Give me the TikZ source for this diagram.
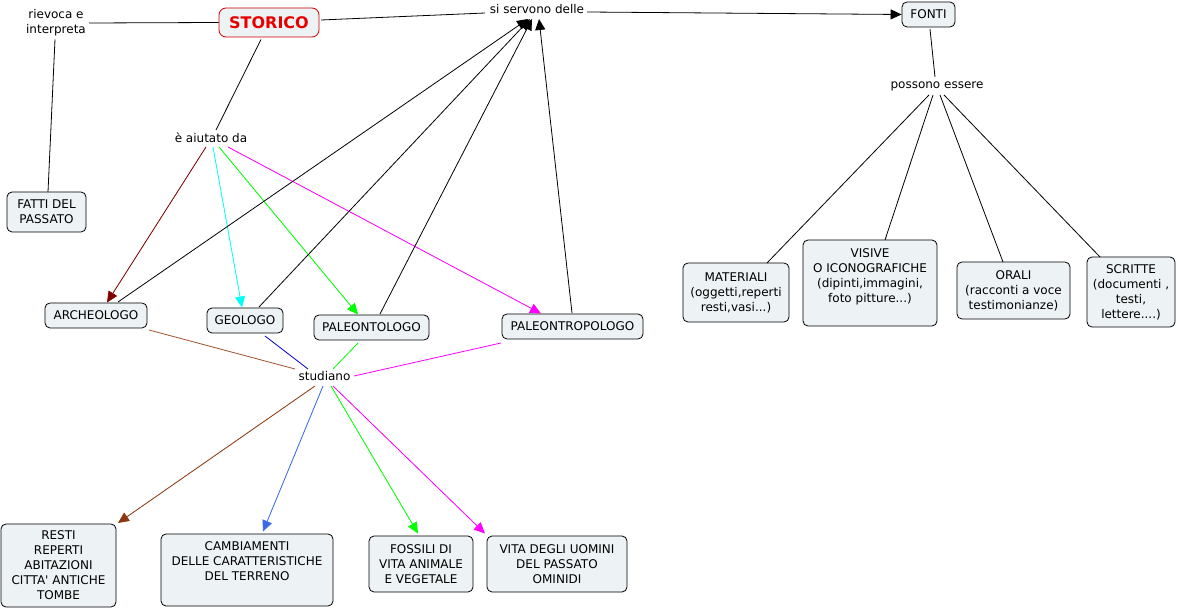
\documentclass[tikz,border=0pt]{standalone}
\usepackage{fontspec}
\setmainfont{DejaVu Sans}
\usetikzlibrary{arrows.meta}
\definecolor{boxfill}{RGB}{237,242,245}
\definecolor{storicoborder}{RGB}{204,0,0}
\definecolor{storicotext}{RGB}{230,0,0}
\definecolor{darkred}{RGB}{128,0,0}
\definecolor{cyanline}{RGB}{0,255,255}
\definecolor{greenline}{RGB}{0,255,0}
\definecolor{magentaline}{RGB}{255,0,255}
\definecolor{siennaline}{RGB}{160,82,45}
\definecolor{brownarrow}{RGB}{139,58,15}
\definecolor{darkblueline}{RGB}{0,0,204}
\definecolor{royalblue}{RGB}{60,105,235}
\begin{document}
\begin{tikzpicture}[x=1pt,y=-1pt,
  every node/.style={font=\fontsize{12}{15}\selectfont, align=center, inner sep=0pt},
  box/.style={draw=black, fill=boxfill, rounded corners=5pt, line width=0.8pt},
  lbl/.style={},
  conn/.style={line width=0.8pt},
  arr/.style={conn, -{Triangle[length=11pt,width=10pt]}},
]
\fill[white] (0,0) rectangle (1187,609);
\useasboundingbox (0,0) rectangle (1187,609);

% labels (linking phrases)
\node[lbl] (riev) at (56,22.5) {rievoca e\\interpreta};
\node[lbl] (aiut) at (211,138) {è aiutato da};
\node[lbl] (serv) at (537,9.5) {si servono delle};
\node[lbl] (poss) at (937,86) {possono essere};
\node[lbl] (stud) at (324.5,376.5) {studiano};

% concepts
\node[box, draw=storicoborder, rounded corners=7pt, minimum width=100pt, minimum height=29pt,
      font=\fontsize{16}{19}\selectfont\bfseries, text=storicotext] (storico) at (269,22.5) {STORICO};
\node[box, minimum width=53pt, minimum height=25pt] (fonti) at (928.5,14.5) {FONTI};
\node[box, minimum width=79pt, minimum height=40pt] (fatti) at (46.5,212) {FATTI DEL\\PASSATO};
\node[box, minimum width=102pt, minimum height=25pt] (arch) at (96,315.5) {ARCHEOLOGO};
\node[box, minimum width=76pt, minimum height=25pt] (geo) at (245,320.5) {GEOLOGO};
\node[box, minimum width=115pt, minimum height=25pt] (paleo) at (371.5,327.5) {PALEONTOLOGO};
\node[box, minimum width=141pt, minimum height=25pt] (paleontr) at (572.5,326.5) {PALEONTROPOLOGO};
\node[box, minimum width=106pt, minimum height=59pt] (mat) at (736,292.5) {MATERIALI\\(oggetti,reperti\\resti,vasi...)};
\node[box, minimum width=134pt, minimum height=86pt, text depth=15.5pt] (vis) at (870,283) {VISIVE\\O ICONOGRAFICHE\\(dipinti,immagini,\\foto pitture...)};
\node[box, minimum width=113pt, minimum height=57pt] (oral) at (1013.5,290.5) {ORALI\\(racconti a voce\\testimonianze)};
\node[box, minimum width=88pt, minimum height=70pt] (scr) at (1131,292) {SCRITTE\\(documenti ,\\testi,\\lettere....)};
\node[box, minimum width=115pt, minimum height=83pt] (resti) at (58.5,565.5) {RESTI\\REPERTI\\ABITAZIONI\\CITTA\textquotesingle{} ANTICHE\\TOMBE};
\node[box, minimum width=172pt, minimum height=72pt, text depth=18pt] (camb) at (247,570) {CAMBIAMENTI\\DELLE CARATTERISTICHE\\DEL TERRENO};
\node[box, minimum width=104pt, minimum height=56pt] (foss) at (421,564) {FOSSILI DI\\VITA ANIMALE\\E VEGETALE};
\node[box, minimum width=140pt, minimum height=56pt] (vita) at (557,564) {VITA DEGLI UOMINI\\DEL PASSATO\\OMINIDI};

% connectors
\draw[conn] (storico.west) -- ([shift={(33,0.5)}]riev.center);
\draw[conn] ([shift={(-1,17)}]riev.center) -- ([shift={(1.5,-20)}]fatti.center);
\draw[conn] ([shift={(-8,17)}]storico.center) -- ([shift={(5,-8)}]aiut.center);
\draw[conn] ([shift={(52,-2.5)}]storico.center) -- ([shift={(-52,3.5)}]serv.center);
\draw[arr] ([shift={(50,2.5)}]serv.center) -- (fonti.west);
\draw[conn] ([shift={(1.5,14.5)}]fonti.center) -- ([shift={(-2,-9)}]poss.center);
\draw[conn] ([shift={(-8,9)}]poss.center) -- ([shift={(31,-29.5)}]mat.center);
\draw[conn] ([shift={(-4,9)}]poss.center) -- ([shift={(15,-43)}]vis.center);
\draw[conn] ([shift={(3,9)}]poss.center) -- ([shift={(-10.5,-28.5)}]oral.center);
\draw[conn] ([shift={(7,9)}]poss.center) -- ([shift={(-31,-35)}]scr.center);

\draw[arr, draw=darkred, fill=darkred] ([shift={(-5,9)}]aiut.center) -- ([shift={(11,-13)}]arch.center);
\draw[arr, draw=cyanline, fill=cyanline] ([shift={(2,9)}]aiut.center) -- ([shift={(-3,-13)}]geo.center);
\draw[arr, draw=greenline, fill=greenline] ([shift={(8,9)}]aiut.center) -- ([shift={(-13.5,-13)}]paleo.center);
\draw[arr, draw=magentaline, fill=magentaline] ([shift={(17,9)}]aiut.center) -- ([shift={(-31.5,-13)}]paleontr.center);

\draw[arr] ([shift={(22,-13.5)}]arch.center) -- ([shift={(-9,9.5)}]serv.center);
\draw[arr] ([shift={(14,-13.5)}]geo.center) -- ([shift={(-7,9.5)}]serv.center);
\draw[arr] ([shift={(8.5,-13.5)}]paleo.center) -- ([shift={(-5,9.5)}]serv.center);
\draw[arr] ([shift={(-0.5,-13.5)}]paleontr.center) -- ([shift={(2,9.5)}]serv.center);

\draw[conn, draw=siennaline] ([shift={(53,14.5)}]arch.center) -- ([shift={(-29.5,-7.5)}]stud.center);
\draw[conn, draw=darkblueline] ([shift={(20,15.5)}]geo.center) -- ([shift={(-16.5,-7.5)}]stud.center);
\draw[conn, draw=greenline] ([shift={(-13.5,15.5)}]paleo.center) -- ([shift={(8.5,-7.5)}]stud.center);
\draw[conn, draw=magentaline] ([shift={(-71.5,16.5)}]paleontr.center) -- ([shift={(29.5,-0.5)}]stud.center);

\draw[arr, draw=brownarrow, fill=brownarrow] ([shift={(-9.5,9.5)}]stud.center) -- ([shift={(59.5,-42.5)}]resti.center);
\draw[arr, draw=royalblue, fill=royalblue] ([shift={(-1.5,9.5)}]stud.center) -- ([shift={(16,-38.5)}]camb.center);
\draw[arr, draw=greenline, fill=greenline] ([shift={(6.5,9.5)}]stud.center) -- ([shift={(-3,-30.5)}]foss.center);
\draw[arr, draw=magentaline, fill=magentaline] ([shift={(8.5,9.5)}]stud.center) -- ([shift={(-72,-30.5)}]vita.center);
\end{tikzpicture}
\end{document}
